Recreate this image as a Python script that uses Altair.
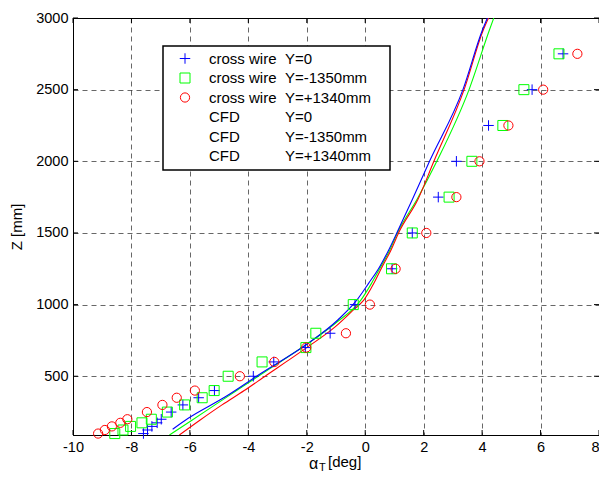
import altair as alt
import pandas as pd

FONT = "Liberation Sans"

# ---------------- data ----------------
# cross-wire measurement heights [mm]
z_exp = [100, 125, 150, 175, 200, 250, 300, 350, 400, 500, 600, 700, 800,
         1000, 1250, 1500, 1750, 2000, 2250, 2500, 2750]
# alpha_T [deg] for the three lateral positions
alpha_cw_y0 = [-7.59, -7.45, -7.30, -7.12, -6.98, -6.64, -6.24, -5.70, -5.16, -3.83,
               -3.13, -2.05, -1.20, -0.35, 0.92, 1.61, 2.50, 3.12, 4.22, 5.71, 6.77]
alpha_cw_ym1350 = [-8.57, -8.29, -8.03, -7.64, -7.32, -6.77, -6.18, -5.58, -5.17, -4.69,
                   -3.53, -2.03, -1.69, -0.41, 0.90, 1.61, 2.87, 3.65, 4.71, 5.43, 6.63]
alpha_cw_yp1340 = [-9.14, -8.91, -8.67, -8.38, -8.14, -7.47, -6.94, -6.45, -5.83, -4.29,
                   -3.11, -2.02, -0.66, 0.16, 1.04, 2.09, 3.12, 3.91, 4.90, 6.09, 7.26]

# CFD profiles
z_cfd_y0 = [130, 205, 355, 521, 716, 896, 1031, 1150, 1252, 1380, 1508, 1737, 2000, 2504,
            2916, 3000]
alpha_cfd_y0 = [-6.59, -6.07, -4.80, -3.56, -2.05, -0.92, -0.29, 0.12, 0.46, 0.80, 1.10, 1.62,
                2.20, 3.35, 4.01, 4.18]
z_cfd_ym1350 = [90, 193, 300, 400, 500, 600, 716, 868, 1031, 1150, 1252, 1380, 1508, 1737,
                2000, 2504, 2916, 3000]
alpha_cfd_ym1350 = [-6.70, -5.93, -5.14, -4.40, -3.66, -2.91, -2.05, -1.03, -0.15, 0.22, 0.50,
                    0.84, 1.12, 1.78, 2.45, 3.56, 4.25, 4.40]
z_cfd_yp1340 = [90, 193, 300, 400, 507, 600, 693, 844, 973, 1031, 1150, 1252, 1380, 1508,
                1737, 2000, 2504, 2916, 3000]
alpha_cfd_yp1340 = [-6.36, -5.66, -4.90, -4.14, -3.38, -2.71, -2.05, -1.03, -0.35, -0.05, 0.30,
                    0.55, 0.88, 1.16, 1.81, 2.35, 3.39, 4.04, 4.22]

x_ticks = [-10, -8, -6, -4, -2, 0, 2, 4, 6, 8]
y_ticks = [500, 1000, 1500, 2000, 2500, 3000]

legend_col1 = ["cross wire", "cross wire", "cross wire", "CFD", "CFD", "CFD"]
legend_col2 = ["Y=0", "Y=-1350mm", "Y=+1340mm", "Y=0", "Y=-1350mm", "Y=+1340mm"]

# ---------------- styling ----------------
W, H = 526, 417
BLUE, GREEN, RED = "#0000ff", "#00ff00", "#ff0000"
PLUS = "M-1,0L1,0M0,-1L0,1"

xs = alt.Scale(domain=[-10, 8], nice=False, zero=False)
ys = alt.Scale(domain=[90, 3000], nice=False, zero=False)

grid_kw = dict(grid=True, gridDash=[5, 4], gridColor="black", gridWidth=0.6,
               gridOpacity=1, tickSize=0, domainColor="black", domainWidth=1,
               labelFont=FONT, labelFontSize=14.5, labelColor="black",
               labelExpr="'' + datum.value")

x_axis = alt.Axis(values=x_ticks, title=None, labelPadding=5, labelFlush=False,
                  labelAlign={"condition": {"test": "datum.value >= 8", "value": "right"},
                              "value": "center"},
                  **grid_kw)
y_axis = alt.Axis(values=y_ticks, title="Z [mm]", titleFont=FONT, titleFontSize=15,
                  titleFontWeight="normal", titleColor="black", titlePadding=11,
                  labelPadding=5, **grid_kw)


def X(field):
    return alt.X(field, scale=xs, axis=x_axis)


def Y(field):
    return alt.Y(field, scale=ys, axis=y_axis)


def marker_layer(xvals, color, shape, size):
    df = pd.DataFrame({"a": xvals, "z": z_exp})
    return alt.Chart(df).mark_point(shape=shape, filled=False, color=color, size=size,
                                    strokeWidth=1, opacity=1).encode(
        x=X("a:Q"), y=Y("z:Q"))


def line_layer(zvals, xvals, color):
    df = pd.DataFrame({"a": xvals, "z": zvals})
    return alt.Chart(df).mark_line(color=color, strokeWidth=1.1, clip=True,
                                   interpolate="monotone").encode(
        x=X("a:Q"), y=Y("z:Q"), order=alt.Order("z:Q"))


# inward ticks on all four sides
xt = pd.DataFrame({"a": x_ticks})
yt = pd.DataFrame({"z": y_ticks})
tick_bottom = alt.Chart(xt).mark_rule(color="black", strokeWidth=1).encode(
    x=X("a:Q"), y=alt.value(H), y2=alt.value(H - 5))
tick_top = alt.Chart(xt).mark_rule(color="black", strokeWidth=1).encode(
    x=X("a:Q"), y=alt.value(0), y2=alt.value(5))
tick_left = alt.Chart(yt).mark_rule(color="black", strokeWidth=1).encode(
    y=Y("z:Q"), x=alt.value(0), x2=alt.value(5))
tick_right = alt.Chart(yt).mark_rule(color="black", strokeWidth=1).encode(
    y=Y("z:Q"), x=alt.value(W), x2=alt.value(W - 5))

lines = [
    line_layer(z_cfd_ym1350, alpha_cfd_ym1350, GREEN),
    line_layer(z_cfd_yp1340, alpha_cfd_yp1340, RED),
    line_layer(z_cfd_y0, alpha_cfd_y0, BLUE),
]
markers = [
    marker_layer(alpha_cw_y0, BLUE, PLUS, 110),
    marker_layer(alpha_cw_ym1350, GREEN, "square", 100),
    marker_layer(alpha_cw_yp1340, RED, "circle", 85),
]


def txt(s, x, y, size, align="left", baseline="alphabetic"):
    return alt.Chart(pd.DataFrame({"t": [s]})).mark_text(
        font=FONT, fontSize=size, align=align, baseline=baseline, color="black").encode(
        text="t:N", x=alt.value(x), y=alt.value(y))


# x-axis title: alpha with subscript T
xtitle = [txt("α", 236, 451, 16), txt("T", 246, 453, 11), txt("[deg]", 255, 449, 15)]

# legend box
box = alt.Chart(pd.DataFrame({"k": [0]})).mark_rect(
    fill="white", stroke="black", strokeWidth=1.5).encode(
    x=alt.value(90), x2=alt.value(317), y=alt.value(28), y2=alt.value(152))

legend_layers = []
row_y = [40.5 + 19.5 * i for i in range(6)]
sym = [(BLUE, PLUS, 110), (GREEN, "square", 100), (RED, "circle", 85)]
for i in range(6):
    legend_layers.append(txt(legend_col1[i], 136, row_y[i], 15, baseline="middle"))
    legend_layers.append(txt(legend_col2[i], 212, row_y[i], 15, baseline="middle"))
for i, (c, s, sz) in enumerate(sym):
    legend_layers.append(alt.Chart(pd.DataFrame({"k": [i]})).mark_point(
        shape=s, filled=False, color=c, size=sz, strokeWidth=1, opacity=1).encode(
        x=alt.value(112), y=alt.value(row_y[i])))

chart = alt.layer(
    tick_bottom, tick_top, tick_left, tick_right,
    *lines, *markers, *xtitle, box, *legend_layers
).properties(
    width=W, height=H,
    padding={"left": 65, "top": 10, "right": 0, "bottom": 38},
    autosize=alt.AutoSizeParams(type="none"),
    background="white",
).configure_view(stroke="black", strokeWidth=1)

chart.save("out.html", embed_options={"renderer": "svg", "actions": False})
